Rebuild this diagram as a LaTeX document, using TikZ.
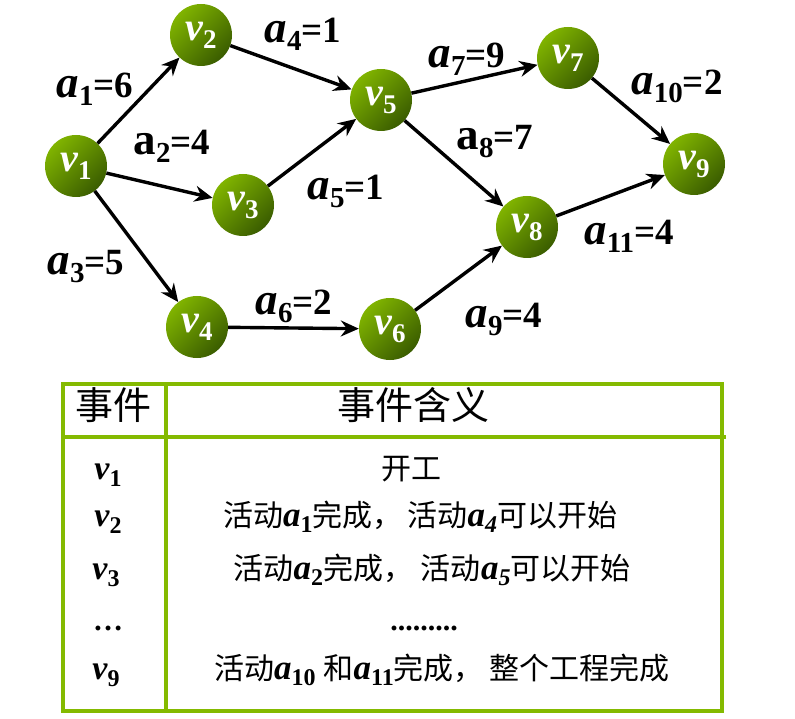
\documentclass[tikz,border=0pt]{standalone}
\usepackage{fontspec}
\setmainfont{Liberation Serif}
\newfontfamily\cjk{Noto Sans CJK SC}
\usetikzlibrary{arrows.meta}
\definecolor{ballhi}{RGB}{128,180,0}
\definecolor{balllo}{RGB}{58,92,0}
\definecolor{tgreen}{RGB}{132,186,0}
\newcommand\bv[1]{{\fontsize{40}{40}\selectfont\bfseries\itshape v}\raisebox{-8pt}{\fontsize{27}{27}\selectfont\bfseries #1}}
\newcommand\al[3]{{\fontsize{45}{45}\selectfont\bfseries #1a}\raisebox{-8pt}{\fontsize{29}{29}\selectfont\bfseries #2}{\fontsize{37}{37}\selectfont\bfseries=#3}}
\newcommand\ta[2]{{\rmfamily\fontsize{35}{35}\selectfont\bfseries\itshape a}\raisebox{-6pt}{\rmfamily\fontsize{24}{24}\selectfont\bfseries #1#2}}
\newcommand\tv[1]{{\rmfamily\fontsize{34}{34}\selectfont\bfseries\itshape v}\raisebox{-7pt}{\rmfamily\fontsize{24}{24}\selectfont\bfseries #1}}
\tikzset{
  ball/.style={circle, minimum size=62pt, inner sep=0pt, text=white,
    top color=ballhi, bottom color=balllo, shading angle=45},
  arr/.style={line width=3.4pt, -{Stealth[length=18pt,width=16pt,inset=6pt]}},
  lab/.style={anchor=base, inner sep=0pt},
  tline/.style={line width=4pt, tgreen},
  ttext/.style={anchor=base, inner sep=0pt, font=\fontsize{30}{30}\cjk},
  htext/.style={anchor=base, inner sep=0pt, font=\fontsize{38}{38}\cjk},
}
\begin{document}
\begin{tikzpicture}[x=1pt,y=-1pt]
\useasboundingbox (0,0) rectangle (795,719);
% nodes
\node[ball] (v1) at (76,166) {\bv{1}};
\node[ball] (v2) at (201,35) {\bv{2}};
\node[ball] (v3) at (243,205) {\bv{3}};
\node[ball] (v4) at (197,327) {\bv{4}};
\node[ball] (v5) at (381,100) {\bv{5}};
\node[ball] (v6) at (390,329) {\bv{6}};
\node[ball] (v7) at (568,58) {\bv{7}};
\node[ball] (v8) at (527,227) {\bv{8}};
\node[ball] (v9) at (694,164) {\bv{9}};
% arrows
\draw[arr] (v1) -- (v2);
\draw[arr] (v1) -- (v3);
\draw[arr] (v1) -- (v4);
\draw[arr] (v2) -- (v5);
\draw[arr] (v3) -- (v5);
\draw[arr] (v4) -- (v6);
\draw[arr] (v5) -- (v7);
\draw[arr] (v5) -- (v8);
\draw[arr] (v6) -- (v8);
\draw[arr] (v7) -- (v9);
\draw[arr] (v8) -- (v9);
% labels
\node[lab] (l1) at (95,98) {\al{\itshape}{1}{6}};
\node[lab] (l2) at (172,155) {\al{}{2}{4}};
\node[lab] (l3) at (86,275) {\al{\itshape}{3}{5}};
\node[lab] (l4) at (303,43) {\al{\itshape}{4}{1}};
\node[lab] (l5) at (346,200) {\al{\itshape}{5}{1}};
\node[lab] (l6) at (294,315) {\al{\itshape}{6}{2}};
\node[lab] (l7) at (467,68) {\al{\itshape}{7}{9}};
\node[lab] (l8) at (495,150) {\al{}{8}{7}};
\node[lab] (l9) at (504,327) {\al{\itshape}{9}{4}};
\node[lab] (l10) at (677,95) {\al{\itshape}{10}{2}};
\node[lab] (l11) at (629,245) {\al{\itshape}{11}{4}};
% table
\draw[tline] (63,384) rectangle (722,711);
\draw[tline] (63,437) -- (726,437);
\draw[tline] (166,384) -- (166,711);
\node[htext] (h1) at (113,419) {事件};
\node[htext] (h2) at (413,419) {事件含义};
\node[lab] (c1) at (108,479) {\tv{1}};
\node[lab] (c2) at (108,526) {\tv{2}};
\node[lab] (c3) at (106,579) {\tv{3}};
\node[lab, font=\fontsize{30}{30}\selectfont\bfseries] (c4) at (108,630) {\ldots};
\node[lab] (c5) at (106,679) {\tv{9}};
\node[ttext] (d1) at (411,479) {开工};
\node[ttext] (d2) at (420,526) {活动\ta{}{1}完成，\,活动\ta{\itshape}{4}可以开始};
\node[ttext] (d3) at (432,579) {活动\ta{}{2}完成，\hspace{8pt}活动\ta{\itshape}{5}可以开始};
\node[lab, font=\fontsize{30}{30}\selectfont\bfseries] (d4) at (424,630) {.........};
\node[ttext] (d5) at (442,679) {活动\ta{}{10}\hspace{8pt}和\ta{}{11}完成，\hspace{6pt}整个工程完成};
\end{tikzpicture}
\end{document}
